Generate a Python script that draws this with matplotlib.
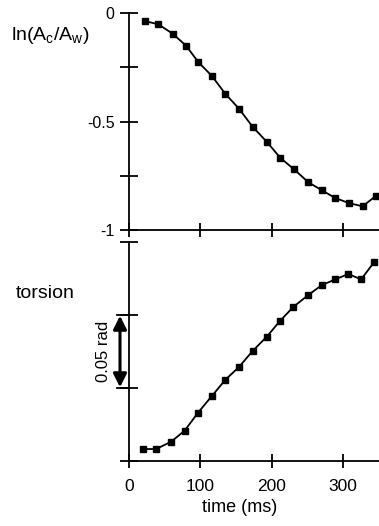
import matplotlib
matplotlib.use("Agg")
import matplotlib.pyplot as plt

plt.rcParams["font.family"] = ["Liberation Sans", "DejaVu Sans"]

# ── data ─────────────────────────────────────────────────────────────────────
t_top = [22, 41, 61, 80, 97, 116, 135, 154, 173, 193, 212, 231, 251, 270, 289, 308, 327, 346]
ln_ratio = [-0.037, -0.052, -0.095, -0.151, -0.226, -0.290, -0.373, -0.441, -0.524,
            -0.594, -0.668, -0.720, -0.780, -0.817, -0.853, -0.876, -0.891, -0.842]

t_bot = [19, 38, 59, 78, 96, 116, 135, 154, 173, 193, 211, 230, 251, 270, 289, 307, 325, 343]
torsion = [0.0082, 0.0082, 0.0132, 0.0208, 0.0327, 0.0445, 0.0557, 0.0644, 0.0753,
           0.0852, 0.0957, 0.1055, 0.1137, 0.1205, 0.1244, 0.1281, 0.1244, 0.1361]

x_ticks = [0, 100, 200, 300]
top_major = [0, -0.5, -1]
top_minor = [-0.25, -0.75]
bot_ticks = [0, 0.05, 0.10, 0.15]

W, H = 379, 526
fig = plt.figure(figsize=(W / 100, H / 100), dpi=100)


def px_axes(left, top, right, bottom):
    return fig.add_axes([left / W, 1 - bottom / H, (right - left) / W, (bottom - top) / H])


def style(ax):
    for s in ("top", "right"):
        ax.spines[s].set_visible(False)
    for s in ("left", "bottom"):
        ax.spines[s].set_linewidth(1.3)
    ax.set_xlim(0, 350)
    ax.set_xticks(x_ticks)
    ax.tick_params(axis="x", direction="inout", length=10, width=1.3, labelsize=12.5, pad=8)
    ax.tick_params(axis="y", which="both", direction="inout", length=13, width=1.3,
                   labelsize=11.5, pad=4)
    ax.patch.set_visible(False)


ax1 = px_axes(129, 13, 379, 230)
style(ax1)
ax1.set_ylim(-1, 0)
ax1.set_yticks(top_major)
ax1.set_yticklabels(["0", "-0.5", "-1"])
ax1.set_yticks(top_minor, minor=True)
ax1.tick_params(axis="x", labelbottom=False)
ax1.plot(t_top, ln_ratio, "-", color="black", lw=1.3, marker="s", ms=4, clip_on=False)

ax2 = px_axes(129, 242, 379, 461)
style(ax2)
ax2.set_ylim(0, 0.15)
ax2.set_yticks(bot_ticks)
ax2.set_yticklabels([])
ax2.plot(t_bot, torsion, "-", color="black", lw=1.3, marker="s", ms=4, clip_on=False)

# scale bar: 0.05 rad between the 0.05 and 0.10 ticks
for yv in (0.05, 0.10):
    ax2.plot([-0.05, 0], [yv, yv], transform=ax2.get_yaxis_transform(),
             color="black", lw=1.3, clip_on=False)
ax2.annotate("", xy=(-0.036, 0.0505), xytext=(-0.036, 0.0995),
             xycoords=ax2.get_yaxis_transform(),
             arrowprops=dict(arrowstyle="<|-|>", color="black", lw=2.2,
                             mutation_scale=20, shrinkA=0, shrinkB=0))
ax2.text(-0.1, 0.075, "0.05 rad", transform=ax2.get_yaxis_transform(),
         rotation=90, ha="center", va="center", fontsize=12)

fig.text(50 / W, 1 - 35 / H, r"ln(A$_\mathregular{c}$/A$_\mathregular{w}$)",
         ha="center", va="center", fontsize=14)
fig.text(45 / W, 1 - 294 / H, "torsion", ha="center", va="center", fontsize=14)
fig.text(240 / W, 1 - 508 / H, "time (ms)", ha="center", va="center", fontsize=13)

fig.savefig("out.png", dpi=100)
